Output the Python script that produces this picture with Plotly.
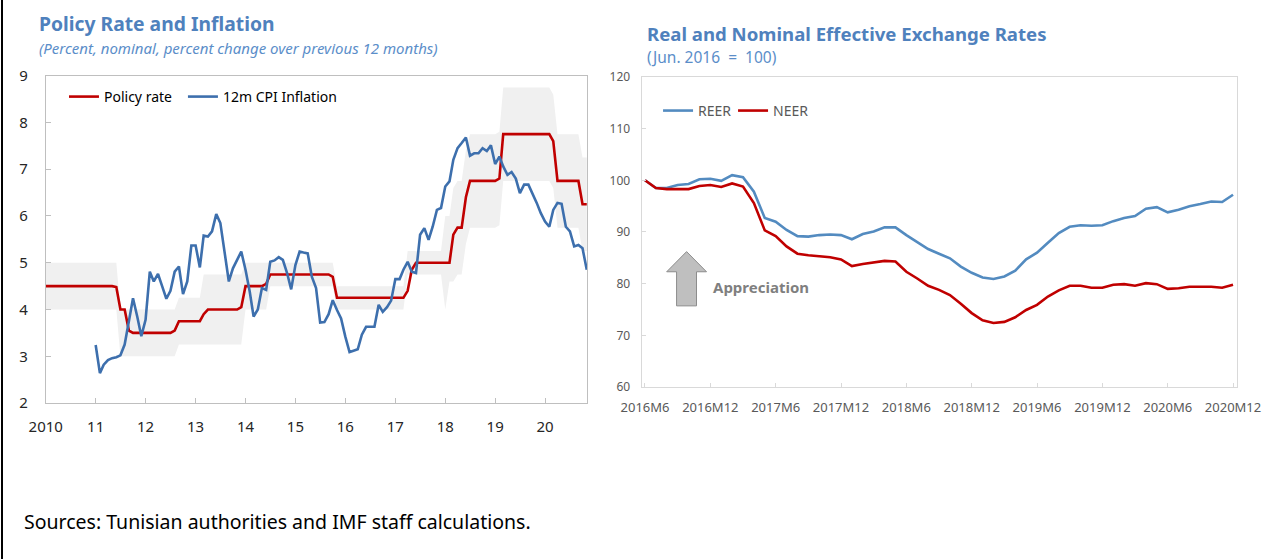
import pandas as pd
import plotly.graph_objects as go

# ---- left panel: monthly, Jan 2010 - Nov 2020 ----
policy_rate = [
    4.5, 4.5, 4.5, 4.5, 4.5, 4.5, 4.5, 4.5, 4.5, 4.5, 4.5, 4.5,
    4.5, 4.5, 4.5, 4.5, 4.5, 4.48, 4.0, 4.0, 3.55, 3.5, 3.5, 3.5,
    3.5, 3.5, 3.5, 3.5, 3.5, 3.5, 3.5, 3.55, 3.75, 3.75, 3.75, 3.75,
    3.75, 3.75, 3.9, 4.0, 4.0, 4.0, 4.0, 4.0, 4.0, 4.0, 4.0, 4.05,
    4.5, 4.5, 4.5, 4.5, 4.5, 4.55, 4.75, 4.75, 4.75, 4.75, 4.75, 4.75,
    4.75, 4.75, 4.75, 4.75, 4.75, 4.75, 4.75, 4.75, 4.75, 4.7, 4.25, 4.25,
    4.25, 4.25, 4.25, 4.25, 4.25, 4.25, 4.25, 4.25, 4.25, 4.25, 4.25, 4.25,
    4.25, 4.25, 4.25, 4.4, 4.85, 5.0, 5.0, 5.0, 5.0, 5.0, 5.0, 5.0,
    5.0, 5.0, 5.6, 5.75, 5.75, 6.4, 6.75, 6.75, 6.75, 6.75, 6.75, 6.75,
    6.75, 6.8, 7.75, 7.75, 7.75, 7.75, 7.75, 7.75, 7.75, 7.75, 7.75, 7.75,
    7.75, 7.75, 7.6, 6.75, 6.75, 6.75, 6.75, 6.75, 6.75, 6.25, 6.25,
]
corridor_hi = [
    5.0, 5.0, 5.0, 5.0, 5.0, 5.0, 5.0, 5.0, 5.0, 5.0, 5.0, 5.0,
    5.0, 5.0, 5.0, 5.0, 5.0, 5.0, 4.0, 4.0, 4.0, 4.0, 4.0, 4.0,
    4.0, 4.0, 4.0, 4.0, 4.0, 4.0, 4.0, 4.0, 4.25, 4.25, 4.25, 4.25,
    4.25, 4.25, 4.75, 4.75, 4.75, 4.75, 4.75, 4.75, 4.75, 4.75, 4.75, 4.75,
    5.0, 5.0, 5.0, 5.0, 5.0, 5.0, 5.0, 5.0, 5.0, 5.0, 5.0, 5.0,
    5.0, 5.0, 5.0, 5.0, 5.0, 5.0, 5.0, 5.0, 5.0, 5.0, 4.5, 4.5,
    4.5, 4.5, 4.5, 4.5, 4.5, 4.5, 4.5, 4.5, 4.5, 4.5, 4.5, 4.5,
    4.5, 4.5, 4.5, 5.25, 5.25, 5.25, 5.25, 5.25, 5.25, 5.25, 5.25, 5.25,
    6.0, 6.0, 6.6, 6.75, 6.75, 7.4, 7.75, 7.75, 7.75, 7.75, 7.75, 7.75,
    7.75, 7.8, 8.75, 8.75, 8.75, 8.75, 8.75, 8.75, 8.75, 8.75, 8.75, 8.75,
    8.75, 8.75, 8.6, 7.75, 7.75, 7.75, 7.75, 7.75, 7.75, 7.25, 7.25,
]
corridor_lo = [
    4.0, 4.0, 4.0, 4.0, 4.0, 4.0, 4.0, 4.0, 4.0, 4.0, 4.0, 4.0,
    4.0, 4.0, 4.0, 4.0, 4.0, 4.0, 3.0, 3.0, 3.0, 3.0, 3.0, 3.0,
    3.0, 3.0, 3.0, 3.0, 3.0, 3.0, 3.0, 3.0, 3.25, 3.25, 3.25, 3.25,
    3.25, 3.25, 3.25, 3.25, 3.25, 3.25, 3.25, 3.25, 3.25, 3.25, 3.25, 3.25,
    4.0, 4.0, 4.0, 4.0, 4.0, 4.0, 4.5, 4.5, 4.5, 4.5, 4.5, 4.5,
    4.5, 4.5, 4.5, 4.5, 4.5, 4.5, 4.5, 4.5, 4.5, 4.5, 4.0, 4.0,
    4.0, 4.0, 4.0, 4.0, 4.0, 4.0, 4.0, 4.0, 4.0, 4.0, 4.0, 4.0,
    4.0, 4.0, 4.0, 4.75, 4.75, 4.75, 4.75, 4.75, 4.75, 4.75, 4.75, 4.75,
    4.0, 4.6, 4.6, 4.75, 4.75, 5.4, 5.75, 5.75, 5.75, 5.75, 5.75, 5.75,
    5.75, 5.8, 6.75, 6.75, 6.75, 6.75, 6.75, 6.75, 6.75, 6.75, 6.75, 6.75,
    6.75, 6.75, 6.6, 5.75, 5.75, 5.75, 5.75, 5.75, 5.75, 5.25, 5.25,
]
# 12m CPI inflation, Jan 2011 - Nov 2020
cpi_12m = [
    3.24, 2.64, 2.82, 2.92, 2.96, 2.98, 3.02, 3.25, 3.75, 4.24, 3.85, 3.43,
    3.78, 4.81, 4.6, 4.76, 4.5, 4.23, 4.4, 4.81, 4.92, 4.33, 4.6, 5.37,
    5.37, 4.9, 5.58, 5.56, 5.67, 6.04, 5.85, 5.2, 4.6, 4.88, 5.05, 5.24,
    4.85, 4.38, 3.85, 4.0, 4.46, 4.42, 5.02, 5.05, 5.12, 5.06, 4.78, 4.43,
    4.95, 5.24, 5.22, 5.2, 4.7, 4.46, 3.72, 3.73, 3.9, 4.2, 3.99, 3.81,
    3.42, 3.09, 3.12, 3.15, 3.46, 3.63, 3.63, 3.63, 4.1, 3.95, 4.05, 4.19,
    4.65, 4.65, 4.85, 5.02, 4.81, 4.78, 5.6, 5.74, 5.49, 5.77, 6.13, 6.17,
    6.63, 6.74, 7.2, 7.45, 7.56, 7.68, 7.29, 7.34, 7.34, 7.45, 7.39, 7.51,
    7.11, 7.27, 7.06, 6.88, 6.94, 6.8, 6.49, 6.67, 6.67, 6.49, 6.28, 6.06,
    5.88, 5.77, 6.13, 6.28, 6.26, 5.77, 5.67, 5.35, 5.38, 5.31, 4.85,
]
year_ticks = ["2010", "11", "12", "13", "14", "15", "16", "17", "18", "19", "20"]

# ---- right panel: 2016M6 - 2020M12, Jun 2016 = 100 ----
reer = [
    100.0, 98.5, 98.5, 99.1, 99.3, 100.2, 100.3, 99.9, 101.0, 100.6, 97.8, 92.7,
    92.0, 90.4, 89.2, 89.1, 89.4, 89.5, 89.4, 88.6, 89.6, 90.1, 90.9, 90.9,
    89.4, 88.1, 86.7, 85.8, 84.9, 83.3, 82.1, 81.2, 80.9, 81.4, 82.5, 84.7,
    86.0, 87.9, 89.8, 91.0, 91.3, 91.2, 91.3, 92.1, 92.7, 93.1, 94.5, 94.8,
    93.8, 94.3, 95.0, 95.4, 95.9, 95.8, 97.2,
]
neer = [
    100.0, 98.5, 98.3, 98.3, 98.3, 98.9, 99.1, 98.7, 99.4, 98.8, 95.6, 90.3,
    89.2, 87.2, 85.8, 85.5, 85.3, 85.1, 84.7, 83.4, 83.8, 84.1, 84.4, 84.3,
    82.3, 81.0, 79.6, 78.8, 77.8, 76.1, 74.3, 72.9, 72.4, 72.6, 73.5, 74.9,
    75.9, 77.5, 78.7, 79.6, 79.6, 79.2, 79.2, 79.8, 79.9, 79.6, 80.1, 79.9,
    79.0, 79.1, 79.4, 79.4, 79.4, 79.2, 79.8,
]

RED = "#c00000"
BLUE_L = "#3d6fad"
BLUE_R = "#538bc0"
TITLE = "#4f81bd"
FONT = "Noto Sans"

months = pd.date_range("2010-01-01", periods=len(policy_rate), freq="MS")
cpi_months = pd.date_range("2011-01-01", periods=len(cpi_12m), freq="MS")
year_vals = pd.date_range("2010-01-01", periods=len(year_ticks), freq="YS")

periods = pd.period_range("2016-06", periods=len(reer), freq="M")
period_lbl = [f"{p.year}M{p.month}" for p in periods]
idx = list(range(len(reer)))

fig = go.Figure()

# policy rate corridor (shaded)
fig.add_trace(go.Scatter(x=months, y=corridor_lo, mode="lines", line=dict(width=0),
                         hoverinfo="skip", showlegend=False, xaxis="x", yaxis="y"))
fig.add_trace(go.Scatter(x=months, y=corridor_hi, mode="lines", line=dict(width=0),
                         fill="tonexty", fillcolor="#f0f0f0",
                         hoverinfo="skip", showlegend=False, xaxis="x", yaxis="y"))
fig.add_trace(go.Scatter(x=months, y=policy_rate, mode="lines", name="Policy rate",
                         line=dict(color=RED, width=2.6), xaxis="x", yaxis="y", legend="legend"))
fig.add_trace(go.Scatter(x=cpi_months, y=cpi_12m, mode="lines", name="12m CPI Inflation",
                         line=dict(color=BLUE_L, width=2.6), xaxis="x", yaxis="y", legend="legend3"))

fig.add_trace(go.Scatter(x=idx, y=reer, mode="lines", name="REER", text=period_lbl,
                         line=dict(color=BLUE_R, width=2.6), xaxis="x2", yaxis="y2", legend="legend2"))
fig.add_trace(go.Scatter(x=idx, y=neer, mode="lines", name="NEER", text=period_lbl,
                         line=dict(color=RED, width=2.6), xaxis="x2", yaxis="y2", legend="legend4"))

axis_l = dict(showline=True, linecolor="#bfbfbf", linewidth=1, mirror=True, showgrid=False,
              zeroline=False, ticks="inside", ticklen=5, tickcolor="#bfbfbf", automargin=False,
              tickfont=dict(family=FONT, size=15, color="#262626"))
axis_r = dict(showline=True, linecolor="#d9d9d9", linewidth=1, mirror=True, showgrid=False,
              zeroline=False, ticks="inside", ticklen=4, tickcolor="#d9d9d9", automargin=False,
              tickfont=dict(family=FONT, size=13, color="#595959"))

# one single-item legend per series so each entry sits where the reference has it
leg_l = dict(orientation="h", y=0.8265, xanchor="left", yanchor="middle", itemwidth=30,
             font=dict(family=FONT, size=14, color="#000000"), bgcolor="rgba(0,0,0,0)")
leg_r = dict(orientation="h", y=0.8015, xanchor="left", yanchor="middle", itemwidth=30,
             font=dict(family=FONT, size=14, color="#595959"), bgcolor="rgba(0,0,0,0)")

fig.update_layout(
    width=1282, height=559,
    margin=dict(l=0, r=0, t=0, b=0, pad=0),
    paper_bgcolor="white", plot_bgcolor="white",
    font=dict(family=FONT),
    xaxis=dict(axis_l, domain=[0.0357, 0.4579], type="date",
               range=["2010-01-01", "2020-11-03"],
               tickvals=year_vals, ticktext=year_ticks, ticklabelstandoff=10),
    yaxis=dict(axis_l, domain=[0.279, 0.8646], range=[2, 9], dtick=1,
               ticklabelstandoff=14),
    xaxis2=dict(axis_r, domain=[0.5004, 0.9647], anchor="y2", range=[-0.32, 54.34],
                tickvals=idx[::6], ticktext=period_lbl[::6], ticklabelstandoff=8),
    yaxis2=dict(axis_r, domain=[0.3077, 0.8623], anchor="x2", range=[60, 120], dtick=10,
                tickfont=dict(family=FONT, size=12, color="#595959"), ticklabelstandoff=8),
    legend=dict(leg_l, x=0.0499),
    legend3=dict(leg_l, x=0.1427),
    legend2=dict(leg_r, x=0.5133),
    legend4=dict(leg_r, x=0.5718),
)

# appreciation arrow on the right panel
fig.add_shape(type="path", xref="x2", yref="y2",
              path="M 2.9 75.7 L 2.9 82.3 L 1.99 82.3 L 3.82 86.2 L 5.65 82.3 L 4.73 82.3 L 4.73 75.7 Z",
              fillcolor="#bfbfbf", line=dict(color="#8c8c8c", width=1))
fig.add_annotation(x=6.1, y=79.4, xref="x2", yref="y2", text="<b>Appreciation</b>",
                   showarrow=False, xanchor="left", yanchor="middle",
                   font=dict(family=FONT, size=15, color="#7f7f7f"))

# titles
fig.add_annotation(x=37 / 1282, y=1 - 24 / 559, xref="paper", yref="paper",
                   text="<b>Policy Rate and Inflation</b>", showarrow=False,
                   xanchor="left", yanchor="middle", font=dict(family=FONT, size=19.3, color=TITLE))
fig.add_annotation(x=37 / 1282, y=1 - 48 / 559, xref="paper", yref="paper",
                   text="<i>(Percent, nominal, percent change over previous 12 months)</i>",
                   showarrow=False, xanchor="left", yanchor="middle",
                   font=dict(family=FONT, size=15, color="#5b8ec9"))
fig.add_annotation(x=645 / 1282, y=1 - 33 / 559, xref="paper", yref="paper",
                   text="<b>Real and Nominal Effective Exchange Rates</b>", showarrow=False,
                   xanchor="left", yanchor="middle", font=dict(family=FONT, size=18.6, color=TITLE))
fig.add_annotation(x=645 / 1282, y=1 - 57 / 559, xref="paper", yref="paper",
                   text="(Jun. 2016  =  100)", showarrow=False, xanchor="left", yanchor="middle",
                   font=dict(family=FONT, size=15.5, color="#5b8ec9"))

fig.add_annotation(x=22 / 1282, y=1 - 521 / 559, xref="paper", yref="paper",
                   text="Sources: Tunisian authorities and IMF staff calculations.",
                   showarrow=False, xanchor="left", yanchor="middle",
                   font=dict(family=FONT, size=19.5, color="#000000"))

# frame line on the left edge
fig.add_shape(type="line", xref="paper", yref="paper", x0=2 / 1282, x1=2 / 1282, y0=0, y1=1,
              line=dict(color="#000000", width=2))

fig.write_html("out.html", config={"displayModeBar": False},
               post_script="document.body.style.margin='0';document.body.style.overflow='hidden';")
